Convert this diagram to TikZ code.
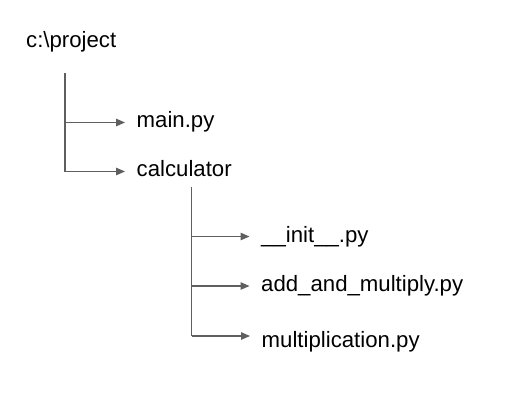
\documentclass[tikz,border=0pt]{standalone}
\usepackage{fontspec}
\setmainfont{Liberation Sans}
\usetikzlibrary{arrows.meta}
\definecolor{linegray}{HTML}{5F5F5F}

\begin{document}
\begin{tikzpicture}[x=1pt,y=-1pt,
item/.style={anchor=base west,inner sep=0pt,font=\fontsize{22.2}{27}\selectfont},
stem/.style={draw=linegray,line width=1.2pt},
branch/.style={stem,-{Triangle[length=9pt,width=7.5pt]},shorten >=11.5pt}
]
\useasboundingbox (0,0) rectangle (518,400);

\node[item] (root) at (26,47) {c:\textbackslash project};
\node[item] (main) at (136.5,127) {main.py};
\node[item] (calc) at (136.5,176) {calculator};
\node[item] (init) at (261,242) {\_\_init\_\_.py};
\node[item] (addmul) at (261,291) {add\_and\_multiply.py};
\node[item] (mult) at (261.5,347.5) {multiplication.py};

\coordinate (t1) at (65,73);
\coordinate (b1) at (65,122.5);
\coordinate (b2) at (65,171.5);
\coordinate (t2) at (191.5,187);
\coordinate (b3) at (191.5,236.5);
\coordinate (b4) at (191.5,286);
\coordinate (b5) at (191.5,336);

\draw[stem] (t1) -- (b2);
\draw[branch] (b1) -- (b1 -| main.west);
\draw[branch] (b2) -- (b2 -| calc.west);

\draw[stem] (t2) -- (b5);
\draw[branch] (b3) -- (b3 -| init.west);
\draw[branch] (b4) -- (b4 -| addmul.west);
\draw[branch] (b5) -- (b5 -| mult.west);

\end{tikzpicture}
\end{document}
